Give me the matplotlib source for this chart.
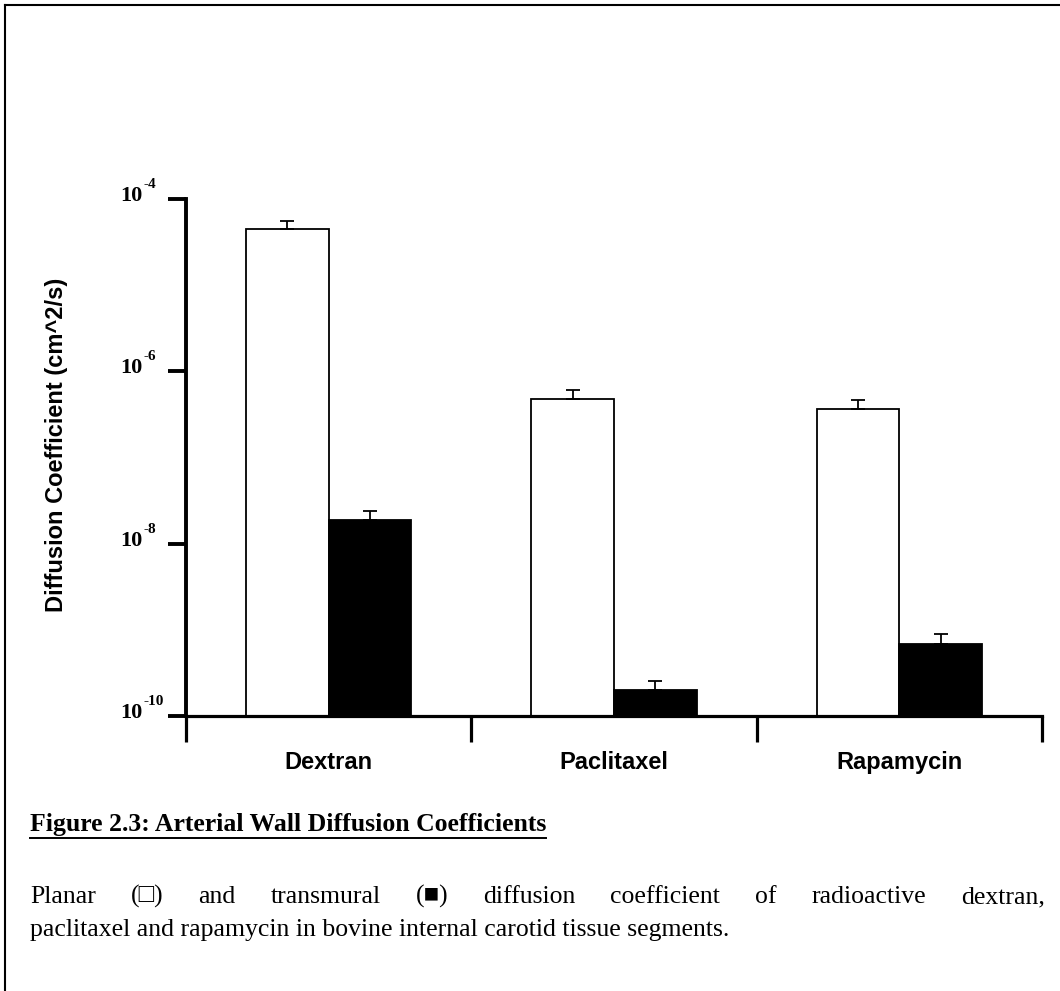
import matplotlib
matplotlib.use('Agg')
import matplotlib.pyplot as plt
from matplotlib.lines import Line2D
from matplotlib.ticker import FixedLocator, NullLocator, NullFormatter, FixedFormatter
import numpy as np

# ---- data ----
categories = ['Dextran', 'Paclitaxel', 'Rapamycin']
planar = [4.5e-5, 4.8e-7, 3.7e-7]
planar_err = [1.1e-5, 1.2e-7, 0.9e-7]
transmural = [1.9e-8, 2.0e-10, 6.9e-10]
transmural_err = [0.5e-8, 0.55e-10, 2.1e-10]
ytick_exps = [-10, -8, -6, -4]

ylabel = 'Diffusion Coefficient (cm^2/s)'
heading = 'Figure 2.3: Arterial Wall Diffusion Coefficients'
body_line1 = 'Planar (\u25a1) and transmural (\u25a0) diffusion coefficient of radioactive dextran,'
body_line2 = 'paclitaxel and rapamycin in bovine internal carotid tissue segments.'

W, H = 1060, 991
fig = plt.figure(figsize=(W / 100, H / 100), dpi=100)
fig.patch.set_facecolor('white')

ax = fig.add_axes([186 / W, 1 - 716 / H, (1042 - 186) / W, (716 - 199) / H])
ax.set_yscale('log', nonpositive='clip')
ax.set_ylim(1e-10, 1e-4)
ax.set_xlim(0, 3)

xc = np.arange(len(categories)) + 0.5
bw = 0.29
ax.bar(xc - bw / 2, planar, bw, color='white', edgecolor='black', linewidth=1.3, zorder=2)
ax.bar(xc + bw / 2, transmural, bw, color='black', edgecolor='black', linewidth=1.3, zorder=2)
ax.errorbar(xc - bw / 2, planar, yerr=[np.zeros(len(planar)), planar_err], fmt='none',
            ecolor='black', elinewidth=1.3, capsize=5, capthick=1.3, zorder=3)
ax.errorbar(xc + bw / 2, transmural, yerr=[np.zeros(len(transmural)), transmural_err], fmt='none',
            ecolor='black', elinewidth=1.3, capsize=5, capthick=1.3, zorder=3)

for s in ['top', 'right']:
    ax.spines[s].set_visible(False)
ax.spines['left'].set_linewidth(2.8)
ax.spines['bottom'].set_linewidth(2.3)

# y ticks
yt = [10.0 ** e for e in ytick_exps]
ax.yaxis.set_major_locator(FixedLocator(yt))
ax.yaxis.set_minor_locator(NullLocator())
ax.yaxis.set_major_formatter(NullFormatter())
ax.yaxis.set_minor_formatter(NullFormatter())
ax.tick_params(axis='y', which='major', direction='out', length=13, width=2.8)

for e in ytick_exps:
    ax.annotate('10', xy=(0, 10.0 ** e), xycoords=ax.get_yaxis_transform(),
                xytext=(-43, -2), textcoords='offset pixels', ha='right', va='baseline',
                fontfamily='Liberation Serif', fontweight='bold', fontsize=16)
    ax.annotate('%d' % e, xy=(0, 10.0 ** e), xycoords=ax.get_yaxis_transform(),
                xytext=(-43, 11), textcoords='offset pixels', ha='left', va='baseline',
                fontfamily='Liberation Serif', fontweight='bold', fontsize=11)

# x ticks
ax.xaxis.set_major_locator(FixedLocator([0, 1, 2, 3]))
ax.xaxis.set_major_formatter(NullFormatter())
ax.xaxis.set_minor_locator(FixedLocator(list(xc)))
ax.xaxis.set_minor_formatter(FixedFormatter(categories))
ax.tick_params(axis='x', which='major', direction='out', length=19, width=2.3)
ax.tick_params(axis='x', which='minor', length=0, pad=25)
for lab in ax.xaxis.get_minorticklabels():
    lab.set_fontfamily('Liberation Sans')
    lab.set_fontweight('bold')
    lab.set_fontsize(17)

fig.text(57 / W, 1 - 445 / H, ylabel, rotation=90, ha='center', va='center',
         fontfamily='Liberation Sans', fontweight='bold', fontsize=17)

# border
fig.add_artist(Line2D([5 / W, 5 / W], [0, 1 - 5 / H], color='black', linewidth=1.5))
fig.add_artist(Line2D([5 / W, 1], [1 - 5 / H, 1 - 5 / H], color='black', linewidth=1.5))

# caption
fam = ['Liberation Serif', 'DejaVu Serif', 'DejaVu Sans']
fs = 18.5
ht = fig.text(30 / W, 1 - 831 / H, heading, ha='left', va='baseline',
              fontfamily=fam, fontweight='bold', fontsize=fs)
fig.canvas.draw()
r = fig.canvas.get_renderer()
bb = ht.get_window_extent(r)
fig.add_artist(Line2D([bb.x0 / W, bb.x1 / W], [1 - 838 / H, 1 - 838 / H],
                      color='black', linewidth=1.4))

# justified first line
words = body_line1.split(' ')
tmp = [fig.text(0, 0, w_, fontfamily=fam, fontsize=fs) for w_ in words]
fig.canvas.draw()
widths = [t.get_window_extent(r).width for t in tmp]
for t in tmp:
    t.remove()
x0, x1 = 30, 1045
gap = (x1 - x0 - sum(widths)) / (len(words) - 1)
xpos = x0
for w_, wd in zip(words, widths):
    fig.text(xpos / W, 1 - 903 / H, w_, ha='left', va='baseline', fontfamily=fam, fontsize=fs)
    xpos += wd + gap

fig.text(30 / W, 1 - 936 / H, body_line2, ha='left', va='baseline', fontfamily=fam, fontsize=fs)

fig.savefig('out.png', dpi=100, facecolor='white')
